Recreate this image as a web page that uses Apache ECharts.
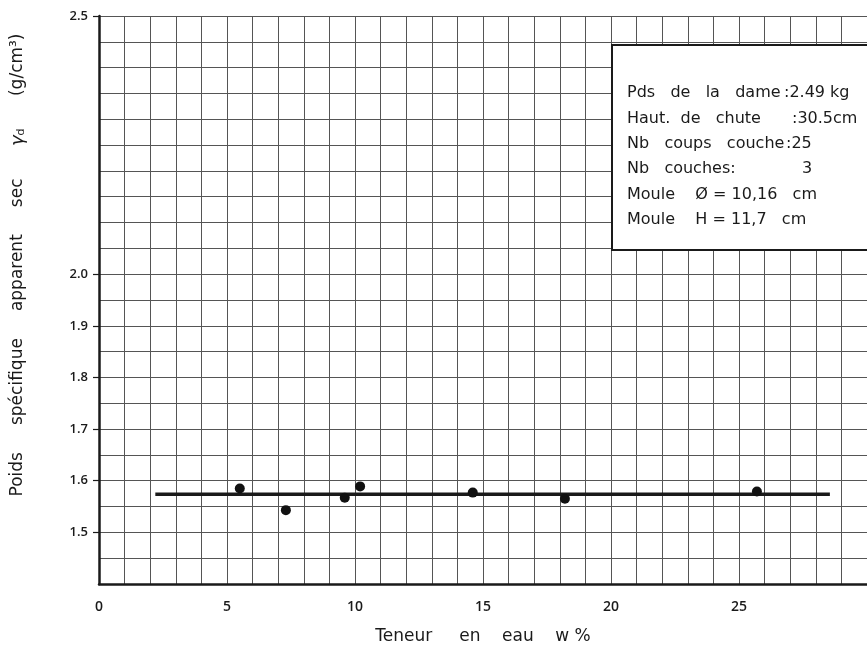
<!DOCTYPE html>
<html>
<head>
<meta charset="utf-8">
<script src="https://cdn.jsdelivr.net/npm/echarts@6/dist/echarts.min.js"></script>
<style>
  html, body { margin: 0; padding: 0; background: #fff; }
  #chart { width: 867px; height: 654px; }
</style>
</head>
<body>
<div id="chart"></div>
<script>
// points mesurés (teneur en eau w %, poids spécifique sec)
const teneurEau = [5.5, 7.3, 9.6, 10.2, 14.6, 18.2, 25.7];
const poidsSec = [1.585, 1.543, 1.567, 1.589, 1.577, 1.565, 1.579];

// droite horizontale tracée sur le graphe
const droiteX = [2.2, 28.55];
const droiteY = 1.574;

// graduations affichées
const yLabels = [1.5, 1.6, 1.7, 1.8, 1.9, 2.0, 2.5];
const xLabels = [0, 5, 10, 15, 20, 25];

// cartouche
const cartoucheGauche = ['Pds   de   la   dame', 'Haut.  de   chute', 'Nb   coups   couche', 'Nb   couches:', 'Moule    Ø = 10,16   cm', 'Moule    H = 11,7   cm'];
const cartoucheDroite = [':2.49 kg', ':30.5cm', ':25', '3', '', ''];
const cartoucheDroiteX = [784, 792, 786, 802, 0, 0];

const ink = '#1a1a1a';
const gridLine = { color: '#555', width: 1 };
const font = 'DejaVu Sans';

const chart = echarts.init(document.getElementById('chart'));

const points = teneurEau.map((x, i) => [x, poidsSec[i]]);
const droite = droiteX.map(x => [x, droiteY]);

const cartouche = [{
    type: 'rect',
    shape: { x: 612, y: 45, width: 270, height: 205 },
    style: { fill: '#fff', stroke: ink, lineWidth: 2 },
    z: 10
}];
cartoucheGauche.forEach((t, i) => {
    cartouche.push({
        type: 'text', x: 627, y: 93 + i * 25.4, z: 11,
        style: { text: t, font: '16px "' + font + '"', fill: ink, verticalAlign: 'middle' }
    });
    if (cartoucheDroite[i]) {
        cartouche.push({
            type: 'text', x: cartoucheDroiteX[i], y: 93 + i * 25.4, z: 11,
            style: { text: cartoucheDroite[i], font: '16px "' + font + '"', fill: ink, verticalAlign: 'middle' }
        });
    }
});

const option = {
    backgroundColor: '#fff',
    animation: false,
    grid: { left: 99, right: -3, top: 16, bottom: 70 },
    xAxis: {
        type: 'value',
        min: 0, max: 30, interval: 1,
        name: 'Teneur     en    eau    w %',
        nameLocation: 'middle',
        nameGap: 44,
        nameTextStyle: { fontFamily: font, fontSize: 17, color: ink },
        axisLine: { show: true, onZero: false, lineStyle: { color: ink, width: 2.5 } },
        axisTick: { show: false },
        axisLabel: {
            customValues: xLabels,
            margin: 16,
            fontFamily: 'Open Sans', fontSize: 14, fontWeight: 600, color: ink
        },
        splitLine: { show: true, lineStyle: gridLine }
    },
    yAxis: [{
        // quadrillage tous les 0.05
        type: 'value',
        min: 1.4, max: 2.5, interval: 0.05,
        name: 'Poids     spécifique     apparent     sec      {g|γ}{s|d}      (g/cm³)',
        nameLocation: 'middle',
        nameRotate: 90,
        nameGap: 72,
        nameTextStyle: {
            fontFamily: font, fontSize: 17, color: ink,
            padding: [0, 0, 0, 70],
            rich: {
                g: { fontFamily: font, fontSize: 18, fontStyle: 'italic', color: ink },
                s: { fontFamily: font, fontSize: 11, color: ink, verticalAlign: 'bottom', padding: [7, 0, 0, 0] }
            }
        },
        axisLine: { show: true, onZero: false, lineStyle: { color: ink, width: 2.5 } },
        axisTick: { show: false },
        axisLabel: {
            customValues: yLabels,
            margin: 11,
            fontFamily: 'Open Sans', fontSize: 13, fontWeight: 600, color: ink,
            formatter: v => v.toFixed(1)
        },
        splitLine: { show: true, lineStyle: gridLine }
    }, {
        // petits traits de graduation
        type: 'value',
        position: 'left',
        min: 1.4, max: 2.5, interval: 0.1,
        axisLine: { show: true, onZero: false, lineStyle: { color: 'rgba(0,0,0,0)' } },
        axisTick: { show: true, inside: false, customValues: yLabels, length: 6, lineStyle: { color: ink, width: 1.2 } },
        axisLabel: { show: false },
        splitLine: { show: false }
    }],
    graphic: cartouche,
    series: [{
        type: 'line',
        data: droite,
        symbol: 'none',
        lineStyle: { color: ink, width: 3.5 },
        z: 3
    }, {
        type: 'scatter',
        data: points,
        symbol: 'circle',
        symbolSize: 10,
        itemStyle: { color: '#111', opacity: 1 },
        z: 4
    }]
};

chart.setOption(option);
</script>
</body>
</html>
